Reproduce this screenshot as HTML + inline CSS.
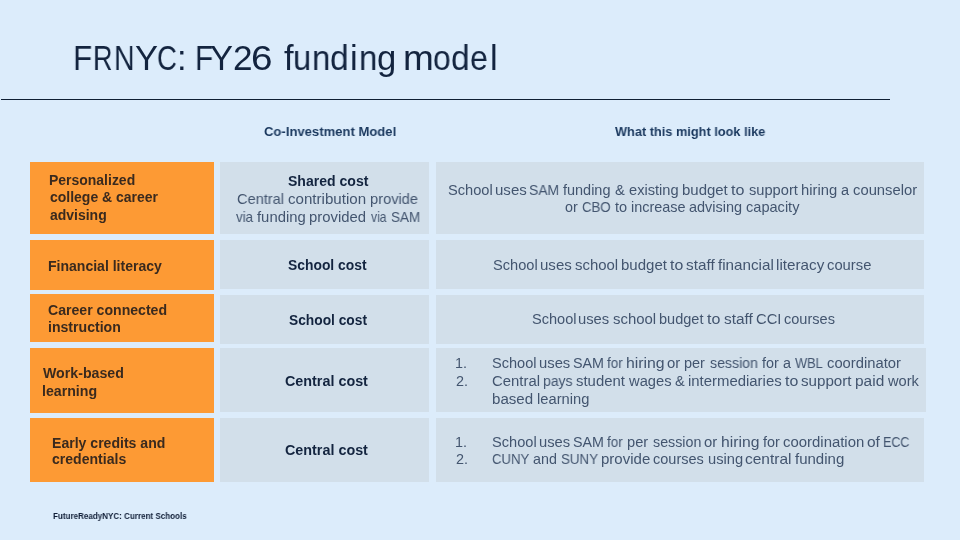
<!DOCTYPE html>
<html><head><meta charset="utf-8"><style>
html,body{margin:0;padding:0;}
body{width:960px;height:540px;background:#dcecfb;position:relative;overflow:hidden;font-family:"Liberation Sans",sans-serif;}
.c{position:absolute;}
.t{position:absolute;white-space:nowrap;will-change:transform;line-height:1.117;font-weight:400;}
.b{font-weight:700;}
.rule{position:absolute;left:1px;top:98.6px;width:889px;height:1.4px;background:#0f1f33;}
</style></head><body>
<div class="rule"></div>
<div class="c" style="left:30.2px;top:162.2px;width:183.50px;height:71.90px;background:#fd9a34"></div>
<div class="c" style="left:219.7px;top:162.2px;width:209.30px;height:71.80px;background:#d2dfea"></div>
<div class="c" style="left:435.6px;top:162.2px;width:488.20px;height:71.80px;background:#d2dfea"></div>
<div class="c" style="left:30.2px;top:239.6px;width:183.50px;height:50.40px;background:#fd9a34"></div>
<div class="c" style="left:219.7px;top:239.7px;width:209.30px;height:49.70px;background:#d2dfea"></div>
<div class="c" style="left:435.6px;top:239.7px;width:488.20px;height:49.70px;background:#d2dfea"></div>
<div class="c" style="left:30.2px;top:294.3px;width:183.50px;height:48.00px;background:#fd9a34"></div>
<div class="c" style="left:219.7px;top:295.2px;width:209.30px;height:48.60px;background:#d2dfea"></div>
<div class="c" style="left:435.6px;top:295.2px;width:488.20px;height:48.60px;background:#d2dfea"></div>
<div class="c" style="left:30.2px;top:348.2px;width:183.50px;height:64.50px;background:#fd9a34"></div>
<div class="c" style="left:219.7px;top:348.3px;width:209.30px;height:64.20px;background:#d2dfea"></div>
<div class="c" style="left:435.6px;top:348.3px;width:490.00px;height:64.20px;background:#d2dfea"></div>
<div class="c" style="left:30.2px;top:418.3px;width:183.50px;height:63.80px;background:#fd9a34"></div>
<div class="c" style="left:219.7px;top:418.3px;width:209.30px;height:63.70px;background:#d2dfea"></div>
<div class="c" style="left:435.6px;top:418.3px;width:488.20px;height:63.70px;background:#d2dfea"></div>
<div class="t b" style="left:263.72px;top:123.80px;font-size:13.600px;color:#1a385e;transform:scaleX(0.9618);transform-origin:0 0">Co-Investment Model</div>
<div class="t b" style="left:614.60px;top:123.80px;font-size:13.600px;color:#1a385e;transform:scaleX(0.9390);transform-origin:0 0">What this might look like</div>
<div class="t b" style="left:49.45px;top:172.60px;font-size:13.980px;color:#3a2a1e">Personalized</div>
<div class="t b" style="left:49.70px;top:190.30px;font-size:13.980px;color:#3a2a1e;transform:scaleX(1.0005);transform-origin:0 0">college &amp; career</div>
<div class="t b" style="left:49.95px;top:207.80px;font-size:13.980px;color:#3a2a1e">advising</div>
<div class="t b" style="left:47.85px;top:258.80px;font-size:14.046px;color:#3a2a1e">Financial literacy</div>
<div class="t b" style="left:48.10px;top:302.80px;font-size:14.101px;color:#3a2a1e;transform:scaleX(0.9987);transform-origin:0 0">Career connected</div>
<div class="t b" style="left:47.85px;top:320.00px;font-size:14.101px;color:#3a2a1e">instruction</div>
<div class="t b" style="left:42.80px;top:365.50px;font-size:14.184px;color:#3a2a1e">Work-based</div>
<div class="t b" style="left:42.05px;top:383.50px;font-size:14.184px;color:#3a2a1e">learning</div>
<div class="t b" style="left:52.05px;top:435.80px;font-size:14.073px;color:#3a2a1e;transform:scaleX(0.9987);transform-origin:0 0">Early credits and</div>
<div class="t b" style="left:52.30px;top:452.40px;font-size:14.073px;color:#3a2a1e">credentials</div>
<div class="t b" style="left:287.50px;top:174.40px;font-size:14.049px;color:#13243f;transform:scaleX(1.0006);transform-origin:0 0">Shared cost</div>
<div class="t" style="left:237.26px;top:191.20px;font-size:14.800px;color:#43556f;transform:scaleX(0.9837);transform-origin:0 0">Central</div>
<div class="t" style="left:287.74px;top:191.20px;font-size:14.800px;color:#43556f;transform:scaleX(1.0213);transform-origin:0 0">contribution</div>
<div class="t" style="left:370.06px;top:191.20px;font-size:14.800px;color:#43556f;transform:scaleX(0.9884);transform-origin:0 0">provide</div>
<div class="t" style="left:235.60px;top:209.30px;font-size:14.341px;color:#43556f;transform:scaleX(0.9297);transform-origin:0 0">via</div>
<div class="t" style="left:257.00px;top:209.30px;font-size:14.341px;color:#43556f;transform:scaleX(1.0357);transform-origin:0 0">funding</div>
<div class="t" style="left:308.82px;top:209.30px;font-size:14.341px;color:#43556f;transform:scaleX(1.0374);transform-origin:0 0">provided</div>
<div class="t" style="left:370.80px;top:209.30px;font-size:14.341px;color:#43556f;transform:scaleX(0.8486);transform-origin:0 0">via</div>
<div class="t" style="left:390.99px;top:209.30px;font-size:14.341px;color:#43556f;transform:scaleX(0.9436);transform-origin:0 0">SAM</div>
<div class="t b" style="left:287.75px;top:258.00px;font-size:13.867px;color:#13243f">School cost</div>
<div class="t b" style="left:288.50px;top:313.00px;font-size:13.778px;color:#13243f">School cost</div>
<div class="t b" style="left:285.10px;top:372.80px;font-size:14.358px;color:#13243f;transform:scaleX(0.9994);transform-origin:0 0">Central cost</div>
<div class="t b" style="left:285.10px;top:442.30px;font-size:14.358px;color:#13243f;transform:scaleX(0.9994);transform-origin:0 0">Central cost</div>
<div class="t" style="left:448.44px;top:181.70px;font-size:14.472px;color:#43556f;transform:scaleX(1.0118);transform-origin:0 0">School</div>
<div class="t" style="left:495.02px;top:181.70px;font-size:14.472px;color:#43556f;transform:scaleX(1.0393);transform-origin:0 0">uses</div>
<div class="t" style="left:529.28px;top:181.70px;font-size:14.472px;color:#43556f;transform:scaleX(0.9593);transform-origin:0 0">SAM</div>
<div class="t" style="left:563.30px;top:181.70px;font-size:14.472px;color:#43556f;transform:scaleX(0.9989);transform-origin:0 0">funding</div>
<div class="t" style="left:615.29px;top:181.70px;font-size:14.472px;color:#43556f;transform:scaleX(1.0222);transform-origin:0 0">&amp;</div>
<div class="t" style="left:628.69px;top:181.70px;font-size:14.472px;color:#43556f;transform:scaleX(1.0115);transform-origin:0 0">existing</div>
<div class="t" style="left:681.72px;top:181.70px;font-size:14.472px;color:#43556f;transform:scaleX(1.0345);transform-origin:0 0">budget</div>
<div class="t" style="left:730.52px;top:181.70px;font-size:14.472px;color:#43556f;transform:scaleX(1.1111);transform-origin:0 0">to</div>
<div class="t" style="left:748.69px;top:181.70px;font-size:14.472px;color:#43556f;transform:scaleX(1.0115);transform-origin:0 0">support</div>
<div class="t" style="left:801.48px;top:181.70px;font-size:14.472px;color:#43556f;transform:scaleX(1.0209);transform-origin:0 0">hiring</div>
<div class="t" style="left:841.22px;top:181.70px;font-size:14.472px;color:#43556f;transform:scaleX(0.9677);transform-origin:0 0">a</div>
<div class="t" style="left:852.79px;top:181.70px;font-size:14.472px;color:#43556f;transform:scaleX(1.0226);transform-origin:0 0">counselor</div>
<div class="t" style="left:565.31px;top:199.00px;font-size:14.308px;color:#43556f;transform:scaleX(0.9750);transform-origin:0 0">or</div>
<div class="t" style="left:581.81px;top:199.00px;font-size:14.308px;color:#43556f;transform:scaleX(0.9244);transform-origin:0 0">CBO</div>
<div class="t" style="left:615.00px;top:199.00px;font-size:14.308px;color:#43556f;transform:scaleX(1.0174);transform-origin:0 0">to</div>
<div class="t" style="left:630.94px;top:199.00px;font-size:14.308px;color:#43556f;transform:scaleX(1.0104);transform-origin:0 0">increase</div>
<div class="t" style="left:689.49px;top:199.00px;font-size:14.308px;color:#43556f;transform:scaleX(1.0137);transform-origin:0 0">advising</div>
<div class="t" style="left:746.19px;top:199.00px;font-size:14.308px;color:#43556f;transform:scaleX(1.0192);transform-origin:0 0">capacity</div>
<div class="t" style="left:493.45px;top:256.70px;font-size:14.607px;color:#43556f">School</div>
<div class="t" style="left:540.03px;top:256.70px;font-size:14.607px;color:#43556f;transform:scaleX(1.0305);transform-origin:0 0">uses</div>
<div class="t" style="left:575.29px;top:256.70px;font-size:14.607px;color:#43556f;transform:scaleX(1.0233);transform-origin:0 0">school</div>
<div class="t" style="left:620.93px;top:256.70px;font-size:14.607px;color:#43556f;transform:scaleX(1.0286);transform-origin:0 0">budget</div>
<div class="t" style="left:669.73px;top:256.70px;font-size:14.607px;color:#43556f;transform:scaleX(1.0870);transform-origin:0 0">to</div>
<div class="t" style="left:686.18px;top:256.70px;font-size:14.607px;color:#43556f;transform:scaleX(1.0481);transform-origin:0 0">staff</div>
<div class="t" style="left:718.30px;top:256.70px;font-size:14.607px;color:#43556f;transform:scaleX(1.0427);transform-origin:0 0">financial</div>
<div class="t" style="left:775.92px;top:256.70px;font-size:14.607px;color:#43556f;transform:scaleX(1.0440);transform-origin:0 0">literacy</div>
<div class="t" style="left:826.99px;top:256.70px;font-size:14.607px;color:#43556f;transform:scaleX(1.0129);transform-origin:0 0">course</div>
<div class="t" style="left:531.74px;top:311.40px;font-size:14.420px;color:#43556f;transform:scaleX(1.0118);transform-origin:0 0">School</div>
<div class="t" style="left:578.43px;top:311.40px;font-size:14.420px;color:#43556f;transform:scaleX(1.0256);transform-origin:0 0">uses</div>
<div class="t" style="left:613.28px;top:311.40px;font-size:14.420px;color:#43556f;transform:scaleX(1.0360);transform-origin:0 0">school</div>
<div class="t" style="left:658.94px;top:311.40px;font-size:14.420px;color:#43556f;transform:scaleX(1.0081);transform-origin:0 0">budget</div>
<div class="t" style="left:707.22px;top:311.40px;font-size:14.420px;color:#43556f;transform:scaleX(1.1111);transform-origin:0 0">to</div>
<div class="t" style="left:723.67px;top:311.40px;font-size:14.420px;color:#43556f;transform:scaleX(1.0679);transform-origin:0 0">staff</div>
<div class="t" style="left:755.93px;top:311.40px;font-size:14.420px;color:#43556f;transform:scaleX(1.0242);transform-origin:0 0">CCI</div>
<div class="t" style="left:783.69px;top:311.40px;font-size:14.420px;color:#43556f;transform:scaleX(1.0101);transform-origin:0 0">courses</div>
<div class="t" style="left:455.40px;top:355.30px;font-size:14.400px;color:#43556f">1.</div>
<div class="t" style="left:455.65px;top:372.80px;font-size:14.400px;color:#43556f">2.</div>
<div class="t" style="left:491.74px;top:355.30px;font-size:14.321px;color:#43556f;transform:scaleX(1.0178);transform-origin:0 0">School</div>
<div class="t" style="left:538.92px;top:355.30px;font-size:14.321px;color:#43556f;transform:scaleX(1.0345);transform-origin:0 0">uses</div>
<div class="t" style="left:572.56px;top:355.30px;font-size:14.321px;color:#43556f;transform:scaleX(0.9880);transform-origin:0 0">SAM</div>
<div class="t" style="left:606.70px;top:355.30px;font-size:14.321px;color:#43556f;transform:scaleX(0.9394);transform-origin:0 0">for</div>
<div class="t" style="left:626.37px;top:355.30px;font-size:14.321px;color:#43556f;transform:scaleX(1.1045);transform-origin:0 0">hiring</div>
<div class="t" style="left:666.98px;top:355.30px;font-size:14.321px;color:#43556f;transform:scaleX(1.0417);transform-origin:0 0">or</div>
<div class="t" style="left:684.24px;top:355.30px;font-size:14.321px;color:#43556f;transform:scaleX(1.0127);transform-origin:0 0">per</div>
<div class="t" style="left:709.51px;top:355.30px;font-size:14.321px;color:#43556f;transform:scaleX(0.9884);transform-origin:0 0">session</div>
<div class="t" style="left:761.70px;top:355.30px;font-size:14.321px;color:#43556f;transform:scaleX(1.0061);transform-origin:0 0">for</div>
<div class="t" style="left:782.80px;top:355.30px;font-size:14.321px;color:#43556f">a</div>
<div class="t" style="left:795.00px;top:355.30px;font-size:14.321px;color:#43556f;transform:scaleX(0.8943);transform-origin:0 0">WBL</div>
<div class="t" style="left:826.98px;top:355.30px;font-size:14.321px;color:#43556f;transform:scaleX(1.0324);transform-origin:0 0">coordinator</div>
<div class="t" style="left:491.74px;top:372.80px;font-size:14.645px;color:#43556f;transform:scaleX(1.0176);transform-origin:0 0">Central</div>
<div class="t" style="left:543.08px;top:372.80px;font-size:14.645px;color:#43556f;transform:scaleX(0.9546);transform-origin:0 0">pays</div>
<div class="t" style="left:575.79px;top:372.80px;font-size:14.645px;color:#43556f;transform:scaleX(1.0189);transform-origin:0 0">student</div>
<div class="t" style="left:628.80px;top:372.80px;font-size:14.645px;color:#43556f;transform:scaleX(1.0060);transform-origin:0 0">wages</div>
<div class="t" style="left:674.50px;top:372.80px;font-size:14.645px;color:#43556f;transform:scaleX(0.9946);transform-origin:0 0">&amp;</div>
<div class="t" style="left:687.54px;top:372.80px;font-size:14.645px;color:#43556f;transform:scaleX(1.0193);transform-origin:0 0">intermediaries</div>
<div class="t" style="left:784.73px;top:372.80px;font-size:14.645px;color:#43556f;transform:scaleX(1.0870);transform-origin:0 0">to</div>
<div class="t" style="left:801.18px;top:372.80px;font-size:14.645px;color:#43556f;transform:scaleX(1.0363);transform-origin:0 0">support</div>
<div class="t" style="left:855.01px;top:372.80px;font-size:14.645px;color:#43556f;transform:scaleX(1.0577);transform-origin:0 0">paid</div>
<div class="t" style="left:887.50px;top:372.80px;font-size:14.645px;color:#43556f;transform:scaleX(1.0016);transform-origin:0 0">work</div>
<div class="t" style="left:492.23px;top:390.90px;font-size:14.645px;color:#43556f;transform:scaleX(1.0327);transform-origin:0 0">based</div>
<div class="t" style="left:536.75px;top:390.90px;font-size:14.645px;color:#43556f;transform:scaleX(1.0059);transform-origin:0 0">learning</div>
<div class="t" style="left:455.40px;top:434.00px;font-size:14.400px;color:#43556f">1.</div>
<div class="t" style="left:455.65px;top:451.40px;font-size:14.400px;color:#43556f">2.</div>
<div class="t" style="left:491.73px;top:435.00px;font-size:14.273px;color:#43556f;transform:scaleX(1.0238);transform-origin:0 0">School</div>
<div class="t" style="left:538.92px;top:435.00px;font-size:14.273px;color:#43556f;transform:scaleX(1.0345);transform-origin:0 0">uses</div>
<div class="t" style="left:572.55px;top:435.00px;font-size:14.273px;color:#43556f;transform:scaleX(0.9966);transform-origin:0 0">SAM</div>
<div class="t" style="left:606.70px;top:435.00px;font-size:14.273px;color:#43556f;transform:scaleX(0.9394);transform-origin:0 0">for</div>
<div class="t" style="left:627.23px;top:435.00px;font-size:14.273px;color:#43556f;transform:scaleX(1.0278);transform-origin:0 0">per</div>
<div class="t" style="left:652.80px;top:435.00px;font-size:14.273px;color:#43556f;transform:scaleX(0.9936);transform-origin:0 0">session</div>
<div class="t" style="left:704.48px;top:435.00px;font-size:14.273px;color:#43556f;transform:scaleX(1.0417);transform-origin:0 0">or</div>
<div class="t" style="left:720.87px;top:435.00px;font-size:14.273px;color:#43556f;transform:scaleX(1.1008);transform-origin:0 0">hiring</div>
<div class="t" style="left:762.50px;top:435.00px;font-size:14.273px;color:#43556f;transform:scaleX(1.0121);transform-origin:0 0">for</div>
<div class="t" style="left:782.78px;top:435.00px;font-size:14.273px;color:#43556f;transform:scaleX(1.0458);transform-origin:0 0">coordination</div>
<div class="t" style="left:866.96px;top:435.00px;font-size:14.273px;color:#43556f;transform:scaleX(1.0870);transform-origin:0 0">of</div>
<div class="t" style="left:883.32px;top:435.00px;font-size:14.273px;color:#43556f;transform:scaleX(0.8772);transform-origin:0 0">ECC</div>
<div class="t" style="left:491.81px;top:452.40px;font-size:14.301px;color:#43556f;transform:scaleX(0.9190);transform-origin:0 0">CUNY</div>
<div class="t" style="left:533.30px;top:452.40px;font-size:14.301px;color:#43556f">and</div>
<div class="t" style="left:560.60px;top:452.40px;font-size:14.301px;color:#43556f;transform:scaleX(0.9325);transform-origin:0 0">SUNY</div>
<div class="t" style="left:601.41px;top:452.40px;font-size:14.301px;color:#43556f;transform:scaleX(1.0505);transform-origin:0 0">provide</div>
<div class="t" style="left:652.79px;top:452.40px;font-size:14.301px;color:#43556f;transform:scaleX(1.0152);transform-origin:0 0">courses</div>
<div class="t" style="left:707.53px;top:452.40px;font-size:14.301px;color:#43556f;transform:scaleX(1.0277);transform-origin:0 0">using</div>
<div class="t" style="left:745.26px;top:452.40px;font-size:14.301px;color:#43556f;transform:scaleX(1.0843);transform-origin:0 0">central</div>
<div class="t" style="left:795.00px;top:452.40px;font-size:14.301px;color:#43556f;transform:scaleX(1.0500);transform-origin:0 0">funding</div>
<div class="t b" style="left:53.25px;top:510.70px;font-size:9.000px;color:#0f1d36;transform:scaleX(0.8941);transform-origin:0 0">FutureReadyNYC: Current Schools</div>
<div class="t" style="left:73.05px;top:39.00px;font-size:34.500px;color:#13243f;transform:scaleX(0.9110);transform-origin:0 0">F</div>
<div class="t" style="left:93.15px;top:39.00px;font-size:34.500px;color:#13243f;transform:scaleX(0.7843);transform-origin:0 0">R</div>
<div class="t" style="left:114.15px;top:39.00px;font-size:34.500px;color:#13243f;transform:scaleX(0.8282);transform-origin:0 0">N</div>
<div class="t" style="left:134.60px;top:39.00px;font-size:34.500px;color:#13243f;transform:scaleX(0.9911);transform-origin:0 0">Y</div>
<div class="t" style="left:157.46px;top:39.00px;font-size:34.500px;color:#13243f;transform:scaleX(0.7988);transform-origin:0 0">C</div>
<div class="t" style="left:177.35px;top:39.00px;font-size:34.500px;color:#13243f">:</div>
<div class="t" style="left:194.68px;top:39.00px;font-size:34.500px;color:#13243f;transform:scaleX(0.8636);transform-origin:0 0">F</div>
<div class="t" style="left:210.21px;top:39.00px;font-size:34.500px;color:#13243f;transform:scaleX(0.9864);transform-origin:0 0">Y</div>
<div class="t" style="left:232.62px;top:39.00px;font-size:34.500px;color:#13243f;transform:scaleX(1.0193);transform-origin:0 0">2</div>
<div class="t" style="left:250.73px;top:39.00px;font-size:34.500px;color:#13243f;transform:scaleX(1.1200);transform-origin:0 0">6</div>
<div class="t" style="left:283.82px;top:39.00px;font-size:34.500px;color:#13243f">f</div>
<div class="t" style="left:292.74px;top:39.00px;font-size:34.500px;color:#13243f;transform:scaleX(0.9480);transform-origin:0 0">u</div>
<div class="t" style="left:311.81px;top:39.00px;font-size:34.500px;color:#13243f;transform:scaleX(0.9548);transform-origin:0 0">n</div>
<div class="t" style="left:330.47px;top:39.00px;font-size:34.500px;color:#13243f;transform:scaleX(0.9726);transform-origin:0 0">d</div>
<div class="t" style="left:350.33px;top:39.00px;font-size:34.500px;color:#13243f">i</div>
<div class="t" style="left:358.81px;top:39.00px;font-size:34.500px;color:#13243f;transform:scaleX(0.9548);transform-origin:0 0">n</div>
<div class="t" style="left:377.33px;top:39.00px;font-size:34.500px;color:#13243f;transform:scaleX(1.0048);transform-origin:0 0">g</div>
<div class="t" style="left:402.83px;top:39.00px;font-size:34.500px;color:#13243f;transform:scaleX(1.0710);transform-origin:0 0">m</div>
<div class="t" style="left:433.20px;top:39.00px;font-size:34.500px;color:#13243f;transform:scaleX(0.9214);transform-origin:0 0">o</div>
<div class="t" style="left:451.27px;top:39.00px;font-size:34.500px;color:#13243f;transform:scaleX(0.9726);transform-origin:0 0">d</div>
<div class="t" style="left:470.49px;top:39.00px;font-size:34.500px;color:#13243f;transform:scaleX(0.9312);transform-origin:0 0">e</div>
<div class="t" style="left:490.02px;top:39.00px;font-size:34.500px;color:#13243f">l</div>
</body></html>
